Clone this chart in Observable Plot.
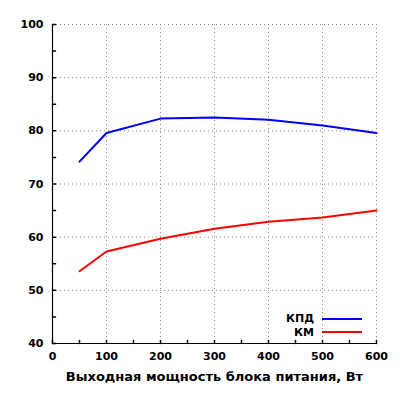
<!DOCTYPE html>
<html>
<head>
<meta charset="utf-8">
<script src="https://cdn.jsdelivr.net/npm/d3@7"></script>
<script src="https://cdn.jsdelivr.net/npm/@observablehq/plot@0.6"></script>
<style>
  body { margin: 0; background: #fff; }
  #chart { position: relative; width: 400px; height: 400px; font-family: "DejaVu Sans", sans-serif; font-weight: bold; }
  #chart svg [aria-label="x-axis label"] text { font-size: 13px; }
  .legend { position: absolute; left: 250px; top: 312px; font-size: 11px; color: #000; }
  .legend div { display: flex; align-items: center; height: 13.5px; }
  .legend span.t { width: 64px; text-align: right; margin-right: 8px; }
  .legend span.l { width: 40px; height: 2px; }
</style>
</head>
<body>
<div id="chart"></div>
<script>
// выходная мощность, Вт
const power = [50, 100, 200, 300, 400, 500, 600]
const kpd = [74.2, 79.6, 82.3, 82.5, 82.1, 81.0, 79.6]
const km = [53.6, 57.3, 59.7, 61.6, 62.9, 63.7, 65.0]
const seriesNames = ['КПД', 'КМ']
const seriesColors = ['#0000ff', '#ff0000']

const xTicks = [0, 100, 200, 300, 400, 500, 600]
const yTicks = [40, 50, 60, 70, 80, 90, 100]
const xMinor = [0, 50, 100, 150, 200, 250, 300, 350, 400, 450, 500, 550, 600]
const yMinor = [40, 45, 50, 55, 60, 65, 70, 75, 80, 85, 90, 95, 100]

const rows = [
  ...power.map((p, i) => ({x: p, y: kpd[i], s: seriesNames[0]})),
  ...power.map((p, i) => ({x: p, y: km[i], s: seriesNames[1]})),
]

// short plain tick line for the vector mark
const tickShape = {draw(ctx, l) { ctx.moveTo(0, 0); ctx.lineTo(0, -l) }}

const chart = Plot.plot({
  width: 400,
  height: 400,
  marginLeft: 52,
  marginRight: 24,
  marginTop: 24,
  marginBottom: 57,
  style: {fontFamily: '"DejaVu Sans", sans-serif', fontWeight: 'bold', fontSize: '11px', color: '#000'},
  x: {domain: [xTicks[0], xTicks[xTicks.length - 1]]},
  y: {domain: [yTicks[0], yTicks[yTicks.length - 1]]},
  color: {domain: seriesNames, range: seriesColors},
  marks: [
    Plot.gridX(xTicks, {stroke: '#888', strokeOpacity: 1, strokeDasharray: '1,3'}),
    Plot.gridY(yTicks, {stroke: '#888', strokeOpacity: 1, strokeDasharray: '1,3'}),
    Plot.vector(yMinor, {y: d => d, frameAnchor: 'left', length: 3, rotate: 90, anchor: 'start', shape: tickShape, stroke: '#000'}),
    Plot.vector(xMinor, {x: d => d, frameAnchor: 'bottom', length: 3, rotate: 0, anchor: 'start', shape: tickShape, stroke: '#000'}),
    Plot.ruleX(xTicks.slice(0, 1), {stroke: '#000', strokeWidth: 1.2}),
    Plot.ruleY(yTicks.slice(0, 1), {stroke: '#000', strokeWidth: 1.2}),
    Plot.line(rows, {x: 'x', y: 'y', z: 's', stroke: 's', strokeWidth: 2}),
    Plot.axisY(yTicks, {tickSize: 0, tickPadding: 9, label: null}),
    Plot.axisX(xTicks, {tickSize: 0, tickPadding: 9, label: 'Выходная мощность блока питания, Вт', labelAnchor: 'center', labelArrow: 'none', labelOffset: 37}),
  ],
})

const el = document.getElementById('chart')
el.append(chart)

const legend = document.createElement('div')
legend.className = 'legend'
seriesNames.forEach((name, i) => {
  const row = document.createElement('div')
  row.innerHTML = `<span class="t">${name}</span><span class="l" style="background:${seriesColors[i]}"></span>`
  legend.append(row)
})
el.append(legend)
</script>
</body>
</html>
